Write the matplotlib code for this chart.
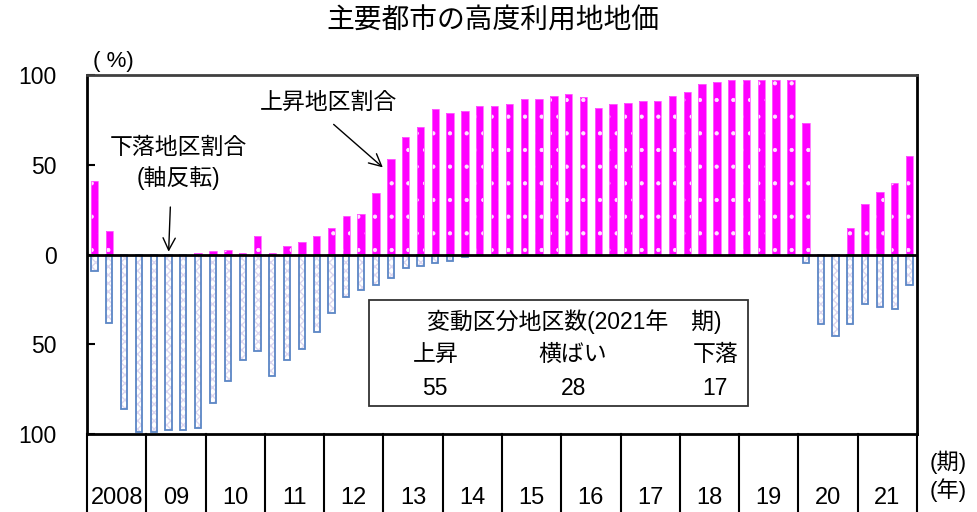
import numpy as np
import matplotlib
matplotlib.use('Agg')
import matplotlib.pyplot as plt
from matplotlib.patches import Rectangle

plt.rcParams['font.family'] = ['Liberation Sans', 'Noto Sans CJK JP']

# quarterly data, 2008 Q1 .. 2021 Q4
years = ['2008', '09', '10', '11', '12', '13', '14', '15', '16', '17', '18', '19', '20', '21']

# share of districts rising (%)
up = [41, 13, 0, 0, 0, 0, 0, 1, 2, 2.5, 1, 10.5, 1, 4.5, 7, 10.5,
      14.5, 21.5, 22.5, 34, 53, 65.5, 71, 81, 79, 80, 82.5, 83, 84, 86.5,
      86.5, 88.5, 89.5, 87.5, 81.5, 84, 84.5, 85.5, 85.5, 88.5, 90.5, 95,
      96, 97, 97, 97, 97, 97, 73, 0.5, 0.5, 15, 28, 35, 40, 55]

# share of districts falling (%), drawn downward
down = [9, 38, 86, 99, 99, 98, 98, 96.5, 82.5, 70.5, 58.5, 53.5, 67.5, 59, 52.5, 43,
        32.5, 23.5, 19.5, 17, 13, 7.5, 6.5, 4.5, 3.5, 1.5, 0, 0, 0, 0,
        0, 0, 0, 0, 0, 0, 0, 0, 0, 0, 0, 0,
        0, 0, 0, 0, 0, 0, 4.5, 38.5, 45.5, 38.5, 27.5, 29.5, 30.5, 17]

box_heads = ['上昇', '横ばい', '下落']
box_counts = [55, 28, 17]

x = np.arange(len(up))
down_neg = -np.array(down)

fig = plt.figure(figsize=(9.77, 5.12), dpi=100)
ax = fig.add_axes([87/977, 1 - 434/512, 830/977, 359/512])

# rising bars: magenta with sparse white dots
plt.rcParams['hatch.linewidth'] = 0.6
ax.bar(x, up, width=0.5, color='#ff00ff', edgecolor='#ffe6ff', hatch='.', linewidth=0, zorder=2)
ax.bar(x, up, width=0.5, fill=False, edgecolor='#ff66ff', linewidth=0.6, zorder=2)

# falling bars: light hatched fill with blue outline
plt.rcParams['hatch.linewidth'] = 1.0
ax.bar(x, down_neg, width=0.42, color='white', edgecolor='#ddd7f0', hatch='xxxx', linewidth=0, zorder=2)
ax.bar(x, down_neg, width=0.42, fill=False, edgecolor='#5b86c5', linewidth=1.3, zorder=3)

ax.axhline(0, color='black', lw=2, zorder=4)

ax.set_xlim(-0.5, len(up) - 0.5)
ax.set_ylim(-100, 100)
ax.set_xticks([])
ax.set_yticks([-100, -50, 0, 50, 100])
ax.set_yticklabels(['100', '50', '0', '50', '100'])
ax.tick_params(axis='y', direction='in', length=6, width=1.5, labelsize=16.5, pad=22)
for side in ['left', 'right', 'bottom']:
    ax.spines[side].set_linewidth(2)
    ax.spines[side].set_color('black')
ax.spines['top'].set_linewidth(2)
ax.spines['top'].set_color('#404040')

# year cells below the plot
bottom_y = -78 / 359
for b in np.arange(-0.5, len(up), 4):
    ax.plot([b, b], [0, bottom_y], transform=ax.get_xaxis_transform(),
            color='black', lw=1.5, clip_on=False)
for i, yr in enumerate(years):
    ax.text(i * 4 + 1.5, -64 / 359, yr, transform=ax.get_xaxis_transform(),
            ha='center', va='center', fontsize=17)
fig.text(948/977, 1 - 462/512, '(期)', ha='center', va='center', fontsize=16)
fig.text(948/977, 1 - 490/512, '(年)', ha='center', va='center', fontsize=16)

fig.text(93/977, 1 - 62/512, '( %)', ha='left', va='center', fontsize=16)
fig.suptitle('主要都市の高度利用地地価', x=493/977, y=1 - 22/512, va='center', fontsize=20)

# annotations
ax.text(15.8, 84.5, '上昇地区割合', ha='center', va='center', fontsize=16.5)
ax.annotate('', xy=(19.6, 47.5), xytext=(16.0, 73.5),
            arrowprops=dict(arrowstyle='->', color='black', lw=1, mutation_scale=22))
ax.text(5.64, 59.5, '下落地区割合', ha='center', va='center', fontsize=16.5)
ax.text(5.64, 42.5, '(軸反転)', ha='center', va='center', fontsize=16.5)
ax.annotate('', xy=(5.0, 0), xytext=(5.13, 28),
            arrowprops=dict(arrowstyle='->', color='black', lw=1, mutation_scale=22))

# count box
ax.add_patch(Rectangle((18.53, -84.5), 25.6, 59, fill=False, edgecolor='#333333', lw=1.3, zorder=5))
ax.text(32.4, -37.5, '変動区分地区数(2021年\u3000期)', ha='center', va='center', fontsize=16.5, zorder=6)
box_x = [23.0, 32.3, 41.9]
for bx, head, cnt in zip(box_x, box_heads, box_counts):
    ax.text(bx, -55.5, head, ha='center', va='center', fontsize=16.5, zorder=6)
    ax.text(bx, -74.5, str(cnt), ha='center', va='center', fontsize=16.5, zorder=6)

fig.savefig('out.png', dpi=100)
